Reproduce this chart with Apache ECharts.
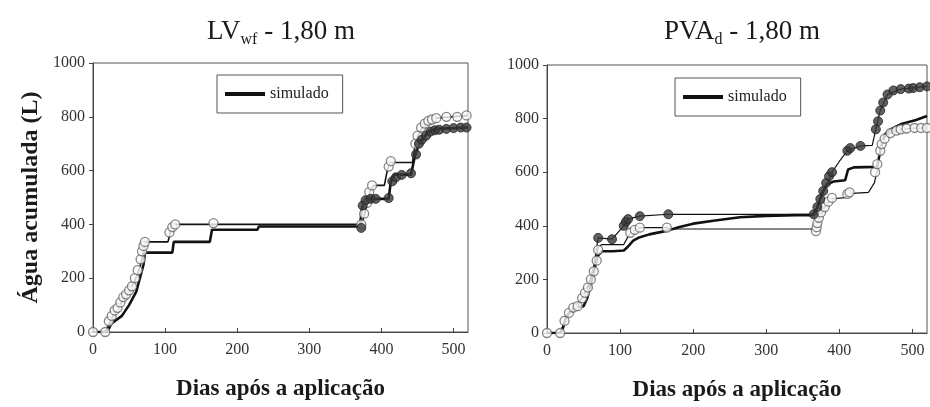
<!DOCTYPE html>
<html><head><meta charset="utf-8">
<script src="https://cdn.jsdelivr.net/npm/echarts@6/dist/echarts.min.js"></script>
<style>html,body{margin:0;padding:0;background:#fff}#c{width:930px;height:407px}</style>
</head><body><div id="c"></div>
<script>
// ---- data (days after application, accumulated water L) ----
const xTicks = [0,100,200,300,400,500];
const yTicks = [0,200,400,600,800,1000];

// Panel 1: LVwf - 1,80 m
const lvSim = [[0,0],[20,0],[25,30],[30,40],[40,60],[50,100],[60,150],[65,200],[70,250],[72,295],[110,295],[112,335],[162,335],[165,380],[228,380],[230,392],[370,392],[373,460],[378,495],[410,495],[413,560],[418,585],[441,585],[446,650],[452,700],[458,720],[465,745],[475,755],[520,760]];
const lvObsLine = [[0,0],[17,0],[22,30],[28,60],[35,90],[42,120],[50,150],[58,190],[65,240],[70,300],[72,335],[104,335],[108,380],[113,400],[170,400],[230,400],[372,400],[376,430],[380,480],[385,530],[390,545],[404,545],[408,600],[412,630],[443,630],[447,700],[452,740],[458,765],[465,785],[475,795],[520,805]];
const lvOpen = [[0,0],[17,0],[22,40],[26,60],[30,80],[34,90],[38,110],[42,130],[46,140],[50,155],[54,170],[58,200],[62,230],[66,270],[68,300],[70,320],[72,335],[106,370],[110,390],[114,400],[167,405],[372,400],[376,440],[380,480],[383,520],[387,545],[410,615],[413,635],[447,700],[450,730],[455,760],[460,775],[465,785],[470,790],[476,795],[490,800],[505,800],[518,805]];
const lvFilled = [[372,387],[374,470],[378,490],[385,495],[392,495],[410,498],[415,560],[420,575],[428,584],[441,590],[448,660],[452,700],[456,715],[462,730],[468,745],[474,750],[480,752],[490,755],[500,758],[510,760],[518,760]];

// Panel 2: PVAd - 1,80 m
const pvaSim = [[0,0],[18,0],[22,20],[26,60],[32,80],[40,95],[50,100],[55,130],[60,180],[65,240],[70,290],[75,305],[90,305],[105,308],[110,320],[118,345],[125,355],[140,368],[165,382],[180,395],[200,408],[230,420],[264,432],[300,437],[340,440],[364,440],[370,470],[376,520],[383,555],[392,565],[408,570],[412,610],[420,618],[452,620],[456,680],[462,740],[470,760],[485,780],[505,795],[520,810]];
const pvaOpenLine = [[0,0],[18,0],[24,40],[30,70],[36,90],[42,100],[50,140],[56,170],[62,210],[66,260],[70,320],[75,330],[105,330],[110,355],[114,374],[127,393],[164,393],[170,388],[368,388],[372,430],[380,470],[388,500],[408,505],[412,520],[440,525],[448,560],[452,610],[456,690],[462,730],[470,746],[484,760],[503,765],[520,765]];
const pvaOpen = [[0,0],[18,0],[24,45],[30,75],[36,95],[42,100],[48,130],[52,150],[56,170],[60,200],[64,230],[68,270],[70,310],[114,374],[120,385],[127,393],[164,393],[368,380],[369,395],[370,410],[372,430],[375,450],[380,470],[385,490],[390,504],[411,519],[414,525],[449,600],[452,630],[456,680],[458,705],[462,725],[470,746],[478,755],[484,760],[492,763],[503,765],[512,765],[520,765]];
const pvaFilledLine = [[0,0],[18,0],[26,60],[36,95],[48,130],[58,190],[64,250],[68,320],[70,355],[89,350],[105,400],[111,425],[127,436],[166,443],[365,443],[370,470],[390,600],[400,640],[411,680],[429,698],[445,700],[450,760],[456,830],[466,890],[484,910],[520,920]];
const pvaFilled = [[70,355],[89,350],[105,400],[108,415],[111,425],[127,436],[166,443],[365,443],[370,470],[374,500],[378,530],[382,560],[386,585],[390,600],[411,680],[415,690],[429,698],[450,760],[453,790],[456,830],[460,860],[466,890],[474,905],[484,910],[495,912],[501,914],[510,917],[520,920]];

const serif = 'Liberation Serif';
const chart = echarts.init(document.getElementById('c'));

function xAxis(gi){
  return {type:'value', gridIndex:gi, min:0, max:520, interval:100,
    name:'Dias após a aplicação', nameLocation:'middle', nameGap:46,
    nameTextStyle:{fontFamily:serif, fontWeight:'bold', fontSize:23, color:'#1a1a1a'},
    axisLine:{lineStyle:{color:'#444', width:1}},
    axisTick:{inside:true, length:4, lineStyle:{color:'#444'}},
    axisLabel:{fontFamily:serif, fontSize:16, color:'#333', margin:10, showMaxLabel:false,
      formatter:v=> xTicks.includes(v)? String(v):''},
    splitLine:{show:false}};
}
function yAxis(gi, withName){
  return {type:'value', gridIndex:gi, min:0, max:1000, interval:200,
    name: withName?'Água acumulada (L)':'', nameLocation:'middle', nameGap:50,
    nameTextStyle:{fontFamily:serif, fontWeight:'bold', fontSize:24, color:'#1a1a1a'},
    axisLine:{lineStyle:{color:'#444', width:1}},
    axisTick:{length:4, lineStyle:{color:'#444'}},
    axisLabel:{fontFamily:serif, fontSize:16, color:'#333', margin:8,
      formatter:v=> yTicks.includes(v)? String(v):''},
    splitLine:{show:false}};
}
function line(name, data, gi, width){
  return {name, type:'line', xAxisIndex:gi, yAxisIndex:gi, data, showSymbol:false, symbol:'none',
    lineStyle:{color:'#111', width}, itemStyle:{color:'#111'}, z:2, silent:true, animation:false};
}
function pts(name, data, gi, filled){
  return {name, type:'scatter', xAxisIndex:gi, yAxisIndex:gi, data, symbolSize:9,
    itemStyle: filled ? {color:'#3a3a3a', borderColor:'#222', borderWidth:1}
                      : {color:'#fafafa', borderColor:'#666', borderWidth:1.3},
    z: filled?4:3, silent:true, animation:false};
}
function legend(left, top){
  return {left, top, data:['simulado'], orient:'horizontal', icon:'rect', itemWidth:40, itemHeight:4,
    itemGap:8, padding:[11,14,11,8], borderColor:'#555', borderWidth:1, backgroundColor:'#fff',
    selectedMode:false, textStyle:{fontFamily:serif, fontSize:16, color:'#222'},
    itemStyle:{color:'#111'}};
}

chart.setOption({
  backgroundColor:'#fff',
  animation:false,
  grid:[
    {left:93, top:63, width:375, height:269, show:true, borderColor:'#555', borderWidth:1, backgroundColor:'transparent'},
    {left:547, top:65, width:380, height:268, show:true, borderColor:'#555', borderWidth:1, backgroundColor:'transparent'}
  ],
  xAxis:[xAxis(0), xAxis(1)],
  yAxis:[yAxis(0,true), yAxis(1,false)],
  legend:[legend(217,75), legend(675,78)],
  graphic:[
    {type:'text', x:281, y:32, style:{text:'{a|LV}{s|wf}{a| - 1,80 m}', align:'center', verticalAlign:'middle',
      rich:{a:{fontFamily:serif, fontSize:27, fill:'#1a1a1a', verticalAlign:'bottom'}, s:{fontFamily:serif, fontSize:16, fill:'#1a1a1a', verticalAlign:'bottom', padding:[0,0,-2,0]}}}},
    {type:'text', x:742, y:32, style:{text:'{a|PVA}{s|d}{a| - 1,80 m}', align:'center', verticalAlign:'middle',
      rich:{a:{fontFamily:serif, fontSize:27, fill:'#1a1a1a', verticalAlign:'bottom'}, s:{fontFamily:serif, fontSize:16, fill:'#1a1a1a', verticalAlign:'bottom', padding:[0,0,-2,0]}}}}
  ],
  series:[
    line('observado 1', lvObsLine, 0, 1.6),
    line('simulado', lvSim, 0, 2.6),
    pts('obs aberto', lvOpen, 0, false),
    pts('obs cheio', lvFilled, 0, true),
    line('observado 2', pvaOpenLine, 1, 1.2),
    line('observado 3', pvaFilledLine, 1, 1.2),
    line('simulado', pvaSim, 1, 2.6),
    pts('obs aberto 2', pvaOpen, 1, false),
    pts('obs cheio 2', pvaFilled, 1, true)
  ]
});
</script></body></html>
